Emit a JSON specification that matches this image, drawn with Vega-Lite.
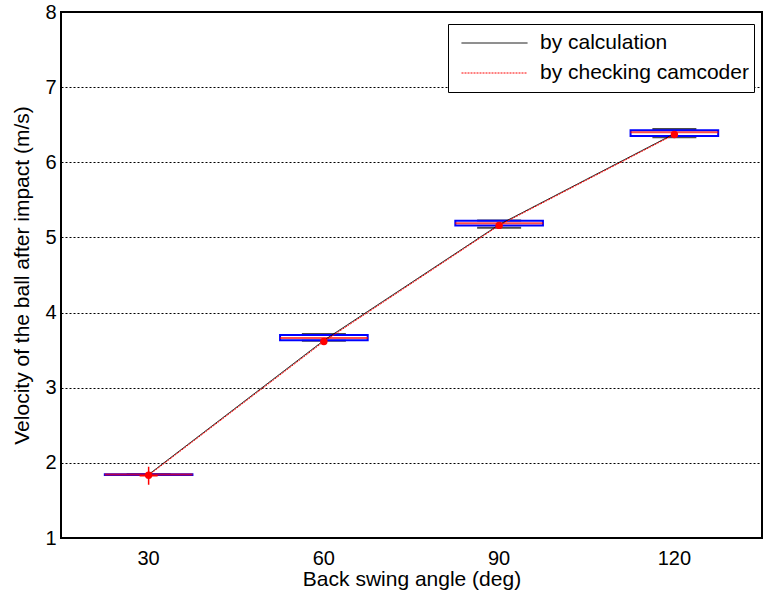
{
  "$schema": "https://vega.github.io/schema/vega-lite/v6.json",
  "width": 701,
  "height": 526,
  "autosize": "none",
  "padding": {"left": 61, "top": 12, "right": 1, "bottom": 61},
  "background": "white",
  "config": {
    "font": "Liberation Sans",
    "view": {"stroke": "black", "strokeWidth": 2},
    "axis": {
      "labelFont": "Liberation Sans",
      "titleFont": "Liberation Sans",
      "labelFontSize": 20,
      "titleFontSize": 21,
      "labelColor": "black",
      "titleColor": "black",
      "titleFontWeight": "normal",
      "domain": false,
      "ticks": false
    },
    "legend": {
      "orient": "none",
      "legendX": 387,
      "legendY": 12,
      "symbolType": "stroke",
      "symbolSize": 4356,
      "symbolOffset": 8,
      "symbolOpacity": 1,
      "clipHeight": 28,
      "labelFont": "Liberation Sans",
      "labelFontSize": 21,
      "labelColor": "black",
      "labelLimit": 400,
      "labelOffset": 12,
      "strokeColor": "black",
      "fillColor": "white",
      "padding": 5,
      "symbolStrokeWidth": 1
    }
  },
  "datasets": {
    "boxes": [
      {"angle": 30, "q1": 1.84, "q3": 1.85, "median": 1.845, "lo": 1.84, "hi": 1.85, "mean": 1.835},
      {"angle": 60, "q1": 3.63, "q3": 3.70, "median": 3.66, "lo": 3.625, "hi": 3.715, "mean": 3.615},
      {"angle": 90, "q1": 5.16, "q3": 5.222, "median": 5.19, "lo": 5.13, "hi": 5.225, "mean": 5.16},
      {"angle": 120, "q1": 6.35, "q3": 6.425, "median": 6.40, "lo": 6.333, "hi": 6.443, "mean": 6.37}
    ],
    "lines": [
      {"angle": 30, "series": "by calculation", "v": 1.845},
      {"angle": 60, "series": "by calculation", "v": 3.63},
      {"angle": 90, "series": "by calculation", "v": 5.17},
      {"angle": 120, "series": "by calculation", "v": 6.38},
      {"angle": 30, "series": "by checking camcoder", "v": 1.835},
      {"angle": 60, "series": "by checking camcoder", "v": 3.615},
      {"angle": 90, "series": "by checking camcoder", "v": 5.16},
      {"angle": 120, "series": "by checking camcoder", "v": 6.37}
    ],
    "outliers": [
      {"angle": 30, "v": 1.83}
    ]
  },
  "encoding": {
    "x": {
      "field": "angle",
      "type": "ordinal",
      "sort": [30, 60, 90, 120],
      "scale": {"type": "band", "domain": [30, 60, 90, 120], "paddingInner": 0, "paddingOuter": 0},
      "axis": {"title": "Back swing angle (deg)", "labelAngle": 0, "labelPadding": 10, "titlePadding": 0, "grid": false}
    }
  },
  "layer": [
    {
      "data": {"name": "boxes"},
      "mark": {"type": "tick", "orient": "horizontal", "size": 44, "thickness": 2, "color": "black"},
      "encoding": {
        "y": {
          "field": "lo", "type": "quantitative",
          "scale": {"domain": [1, 8], "nice": false, "zero": false},
          "axis": {
            "title": "Velocity of the ball after impact (m/s)",
            "values": [1, 2, 3, 4, 5, 6, 7, 8],
            "format": "d",
            "grid": true,
            "gridColor": "black",
            "gridDash": [2, 2],
            "gridWidth": 1,
            "gridOpacity": 1,
            "labelPadding": 5,
            "titlePadding": 12
          }
        }
      }
    },
    {
      "data": {"name": "boxes"},
      "mark": {"type": "tick", "orient": "horizontal", "size": 44, "thickness": 2, "color": "black"},
      "encoding": {"y": {"field": "hi", "type": "quantitative"}}
    },
    {
      "data": {"name": "boxes"},
      "mark": {"type": "bar", "width": {"band": 0.5}, "fill": "white", "fillOpacity": 0, "stroke": "blue", "strokeWidth": 2},
      "encoding": {
        "y": {"field": "q1", "type": "quantitative"},
        "y2": {"field": "q3"}
      }
    },
    {
      "data": {"name": "boxes"},
      "mark": {"type": "tick", "orient": "horizontal", "size": 88, "thickness": 2, "color": "red"},
      "encoding": {"y": {"field": "median", "type": "quantitative"}}
    },
    {
      "data": {"name": "lines"},
      "mark": {"type": "line", "strokeWidth": 1},
      "encoding": {
        "y": {"field": "v", "type": "quantitative"},
        "color": {
          "field": "series", "type": "nominal",
          "scale": {"domain": ["by calculation", "by checking camcoder"], "range": ["black", "red"]},
          "legend": {"title": null}
        },
        "strokeDash": {
          "field": "series", "type": "nominal",
          "scale": {"domain": ["by calculation", "by checking camcoder"], "range": [[1, 0], [2, 1]]},
          "legend": {"title": null}
        }
      }
    },
    {
      "data": {"name": "boxes"},
      "mark": {"type": "point", "filled": true, "color": "red", "size": 55, "opacity": 1},
      "encoding": {"y": {"field": "mean", "type": "quantitative"}}
    },
    {
      "data": {"name": "outliers"},
      "mark": {"type": "point", "shape": "M-1,0L1,0M0,-1L0,1", "filled": false, "stroke": "red", "strokeWidth": 1.5, "size": 324, "opacity": 1},
      "encoding": {"y": {"field": "v", "type": "quantitative"}}
    }
  ]
}
